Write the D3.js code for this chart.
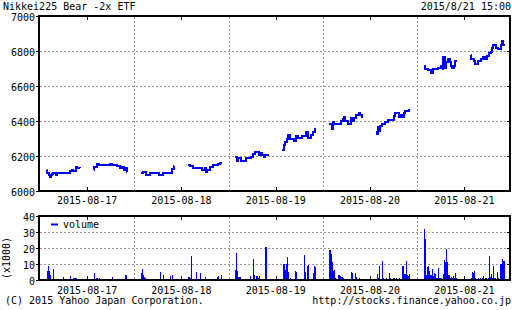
<!DOCTYPE html>
<html><head><meta charset="utf-8">
<script src="https://cdn.jsdelivr.net/npm/d3@7"></script>
<style>
html,body{margin:0;padding:0;background:#fff;}
svg{display:block;}
text{font-family:"DejaVu Sans Mono",monospace;font-size:10px;fill:#000;}
</style></head><body>
<svg id="c" width="512" height="310"></svg>
<script>
const title = "Nikkei225 Bear -2x ETF";
const stamp = "2015/8/21 15:00";
const days = ["2015-08-17","2015-08-18","2015-08-19","2015-08-20","2015-08-21"];
const priceTicks = [6000,6200,6400,6600,6800,7000];
const volTicks = [0,10,20,30,40];

// price: [time, price]
const price17 = [["09:00",6119],["09:04",6104],["09:12",6091],["09:16",6081],["09:20",6093],["09:24",6097],["09:30",6101],["09:42",6094],["09:46",6101],["10:46",6115],["10:52",6119],["11:00",6115],["11:10",6138],["11:14",6129],["11:18",6131],["11:30",6130],
  ["12:30",6119],["12:32",6138],["12:45",6157],["12:52",6146],["13:42",6157],["13:51",6148],["14:12",6142],["14:27",6129],["14:34",6138],["14:45",6119],["14:53",6132],["14:57",6108],["15:00",6108]];
const price18 = [["09:00",6104],["09:10",6110],["09:25",6091],["09:40",6104],["10:19",6091],["10:39",6104],["11:19",6127],["11:27",6142],["11:30",6142],
  ["12:30",6146],["12:38",6142],["12:53",6131],["13:32",6119],["13:44",6131],["13:50",6108],["13:55",6119],["14:07",6138],["14:22",6146],["14:46",6153],["14:52",6161],["15:00",6161]];
const price19 = [["09:00",6195],["09:07",6170],["09:13",6186],["09:25",6170],["09:50",6186],["10:09",6195],["10:20",6214],["10:27",6223],["10:45",6208],["10:54",6218],["11:00",6208],["11:09",6195],["11:14",6208],["11:30",6208],
  ["12:30",6237],["12:38",6261],["12:44",6280],["12:50",6299],["12:56",6322],["13:05",6299],["13:22",6288],["13:31",6314],["13:40",6303],["13:58",6314],["14:16",6337],["14:25",6303],["14:40",6322],["14:48",6337],["14:55",6356],["15:00",6356]];
const price20 = [["09:00",6385],["09:10",6356],["09:16",6394],["09:22",6385],["09:52",6399],["10:00",6413],["10:06",6422],["10:11",6399],["10:21",6385],["10:36",6419],["10:45",6399],["10:51",6419],["11:00",6432],["11:12",6445],["11:18",6432],["11:27",6422],["11:30",6422],
  ["12:30",6343],["12:34",6328],["12:38",6366],["12:41",6343],["12:44",6370],["12:53",6381],["13:08",6394],["13:22",6407],["13:47",6426],["13:52",6445],["14:10",6422],["14:19",6432],["14:25",6422],["14:31",6445],["14:37",6460],["14:55",6464],["15:00",6464]];
const price21 = [["09:00",6712],["09:05",6697],["09:18",6689],["09:33",6674],["09:42",6697],["10:03",6705],["10:18",6712],["10:24",6697],["10:27",6763],["10:33",6750],["10:36",6701],["10:41",6735],["10:48",6754],["10:57",6735],["11:02",6716],["11:08",6701],["11:14",6716],["11:20",6743],["11:30",6743],
  ["12:30",6777],["12:32",6754],["12:44",6743],["12:50",6727],["13:04",6743],["13:13",6754],["13:22",6765],["13:31",6754],["13:43",6773],["13:49",6788],["13:58",6795],["14:04",6820],["14:10",6833],["14:22",6818],["14:33",6811],["14:45",6833],["14:49",6856],["14:51",6837],["15:00",6837]];

// volume (x1000), 5-minute bars: 30 morning (9:00-11:25) then 30 afternoon (12:30-14:55)
const vol17 = [5.5,8.6,5.5,3,0.5,0.3,6.8,0,0.8,0.6,0.8,0,0.5,0.9,0,1.6,0.4,0.6,0,0.3,0,2.5,0.3,0,1.2,1.0,1.2,0.6,0,0,
  4.5,0.8,1.4,1.2,0.9,1.4,0.6,0.4,0.8,0,0.6,0.4,0,0.7,0.3,0,1.6,0.4,0,0,0.3,0,0.6,0.6,0.5,0.7,0,0,3.0,3.0];
const vol18 = [4.5,6.8,3.0,2.0,1.4,0.5,0.6,0,0.4,0,0.3,0.8,0,0,0.3,0,0,4.9,0,0,2.9,0,0,0,0.3,0,2.5,0.4,2.9,0.5,
  1.6,1.6,1.2,14.8,0.6,0.6,0,4.9,0,0.6,0,4.5,0,0,0,1.6,0,0,0,0.5,0,0,0,0,0,0,1.6,2.5,0.5,3.0];
const vol19 = [6.2,16.8,5.7,2.0,1.6,0.5,0.3,0,0.4,0,0.5,0,0.3,2.7,0.4,0,13.0,3.0,0.5,2.5,1.5,2.2,0.5,0.3,0,0.8,0,20.5,0.8,0.5,
  0,9.8,6.2,10.3,14.4,4.7,0.8,1.0,0.5,0,0.6,5.5,4.9,0.6,0.8,0,0,0.5,0,15.4,5.0,0.6,9.0,9.6,0.6,0,0.5,4.5,8.6,8.2];
const vol20 = [19.0,16.4,11.0,5.7,6.5,1.2,0.6,0.5,2.9,2.2,1.8,2.0,1.2,0.6,0.6,0.3,0.4,0.8,0.3,4.7,4.1,0.6,0.5,4.5,1.6,0.5,1.0,0.3,0.5,0.3,
  4.0,1.2,9.0,0.5,0.8,11.6,1.2,0.6,1.2,0.8,0.3,4.3,1.0,0.8,0.5,1.4,0.6,1.0,0.8,0.6,1.2,0.5,0.8,8.7,3.7,3.5,11.6,3.0,2.3,3.7];
const vol21 = [31.8,25.6,3.0,8.2,8.6,5.7,3.3,6.6,2.5,4.5,3.7,1.2,1.0,7.2,1.5,1.2,0.8,3.7,12.3,11.3,19.5,11.5,3.0,1.2,2.0,1.5,2.8,1.0,4.1,1.2,
  1.5,4.7,4.1,5.7,1.0,0.5,1.0,0.6,1.5,0.5,1.2,2.7,0.8,1.5,0.5,1.0,15.0,2.0,3.7,1.0,8.8,1.2,0.8,5.3,1.5,0.6,10.3,9.8,12.9,11.9];

const prices = [price17, price18, price19, price20, price21];
const vols = [vol17, vol18, vol19, vol20, vol21];

const BLUE = "#0000ff", GRID = "#999";
const DAY_MIN = 420, START = 8*60+31;
const hm = t => { const [h,m] = t.split(":").map(Number); return h*60+m; };
const toMin = (d, t) => d*DAY_MIN + hm(t) - START;

const svg = d3.select("#c");
const x = d3.scaleLinear().domain([0, 5*DAY_MIN]).range([40, 511.5]);
const y = d3.scaleLinear().domain([6000, 7000]).range([191, 16]);
const yv = d3.scaleLinear().domain([0, 40]).range([280, 216]);
const L = 39, R = 510;

function panel(ys, ticks, top, bottom, gridVals, dateY) {
  const g = svg.append("g");
  // horizontal grid
  g.selectAll(".hg").data(gridVals).join("line")
    .attr("x1", L+1).attr("x2", R-1)
    .attr("y1", d => Math.round(ys(d))+0.5).attr("y2", d => Math.round(ys(d))+0.5)
    .attr("stroke", GRID).attr("stroke-dasharray", "2,2");
  // vertical grid (day separators)
  g.selectAll(".vg").data([1,2,3,4]).join("line")
    .attr("x1", d => Math.round(x(d*DAY_MIN))+0.5).attr("x2", d => Math.round(x(d*DAY_MIN))+0.5)
    .attr("y1", top+1).attr("y2", bottom-1)
    .attr("stroke", GRID).attr("stroke-dasharray", "2,2");
  // left axis with labels
  const ax = d3.axisLeft(ys).tickValues(ticks).tickSize(3).tickPadding(1).tickFormat(d3.format("d"));
  const ag = g.append("g").attr("transform", `translate(${L},0)`).call(ax);
  ag.select(".domain").remove();
  ag.selectAll("line").attr("stroke", "#000").attr("shape-rendering", "crispEdges");
  ag.selectAll("text").attr("font-family", '"DejaVu Sans Mono",monospace').attr("font-size", 10).attr("dy", "0.45em").attr("fill", "#000");
  // right inner ticks
  g.selectAll(".rt").data(ticks).join("line")
    .attr("x1", R-3).attr("x2", R).attr("y1", d => Math.round(ys(d))+0.5).attr("y2", d => Math.round(ys(d))+0.5)
    .attr("stroke", "#000");
  // day-center ticks top & bottom
  const centers = days.map((d,i) => Math.round(x(i*DAY_MIN + DAY_MIN/2)) + 0.5);
  g.selectAll(".tt").data(centers).join("line")
    .attr("x1", d => d).attr("x2", d => d).attr("y1", top).attr("y2", top+4).attr("stroke", "#000");
  g.selectAll(".bt").data(centers).join("line")
    .attr("x1", d => d).attr("x2", d => d).attr("y1", bottom-4).attr("y2", bottom).attr("stroke", "#000");
  // date labels
  g.selectAll(".dl").data(days).join("text")
    .attr("x", (d,i) => x(i*DAY_MIN + DAY_MIN/2)).attr("y", dateY)
    .attr("text-anchor", "middle").text(d => d);
  return g;
}

panel(y, priceTicks, 16, 191, [6200,6400,6600,6800], 204);
panel(yv, volTicks, 216, 280, [10,20,30], 293.5);

// volume bars
const barW = x(5) - x(0);
const bars = [];
vols.forEach((arr, d) => arr.forEach((v, k) => {
  const t = k < 30 ? hm("09:00") + 5*k : hm("12:30") + 5*(k-30);
  bars.push({x: x(d*DAY_MIN + t - START), v});
}));
svg.append("g").selectAll("rect").data(bars.filter(b => b.v > 0)).join("rect")
  .attr("x", b => b.x).attr("width", Math.max(1, barW))
  .attr("y", b => yv(b.v)).attr("height", b => yv(0) - yv(b.v))
  .attr("fill", BLUE).attr("shape-rendering", "crispEdges");

// price lines, split per session
const line = d3.line().x(p => x(p.m)).y(p => y(p.v)).curve(d3.curveStepAfter);
prices.forEach((arr, d) => {
  const pts = arr.map(([t, v]) => ({m: toMin(d, t), v, am: hm(t) < 12*60}));
  [pts.filter(p => p.am), pts.filter(p => !p.am)].forEach(s => {
    svg.append("path").attr("d", line(s)).attr("fill", "none")
      .attr("stroke", BLUE).attr("stroke-width", 2).attr("shape-rendering", "crispEdges");
  });
});

// frames
[[16,191],[216,280]].forEach(([t,b]) => {
  svg.append("rect").attr("x", L).attr("y", t).attr("width", R-L).attr("height", b-t)
    .attr("fill", "none").attr("stroke", "#000").attr("stroke-width", 2);
});

// legend
svg.append("line").attr("x1", 51).attr("x2", 58).attr("y1", 224.5).attr("y2", 224.5)
  .attr("stroke", BLUE).attr("stroke-width", 2);
svg.append("text").attr("x", 63).attr("y", 228).text("volume");

// texts
svg.append("text").attr("x", 3).attr("y", 10).text(title);
svg.append("text").attr("x", 511).attr("y", 10).attr("text-anchor", "end").text(stamp);
svg.append("text").attr("transform", "translate(10,258) rotate(-90)").attr("text-anchor", "middle").text("(x1000)");
svg.append("text").attr("x", 5).attr("y", 304).text("(C) 2015 Yahoo Japan Corporation.");
svg.append("text").attr("x", 511).attr("y", 304).attr("text-anchor", "end").text("http://stocks.finance.yahoo.co.jp");
</script>
</body></html>
